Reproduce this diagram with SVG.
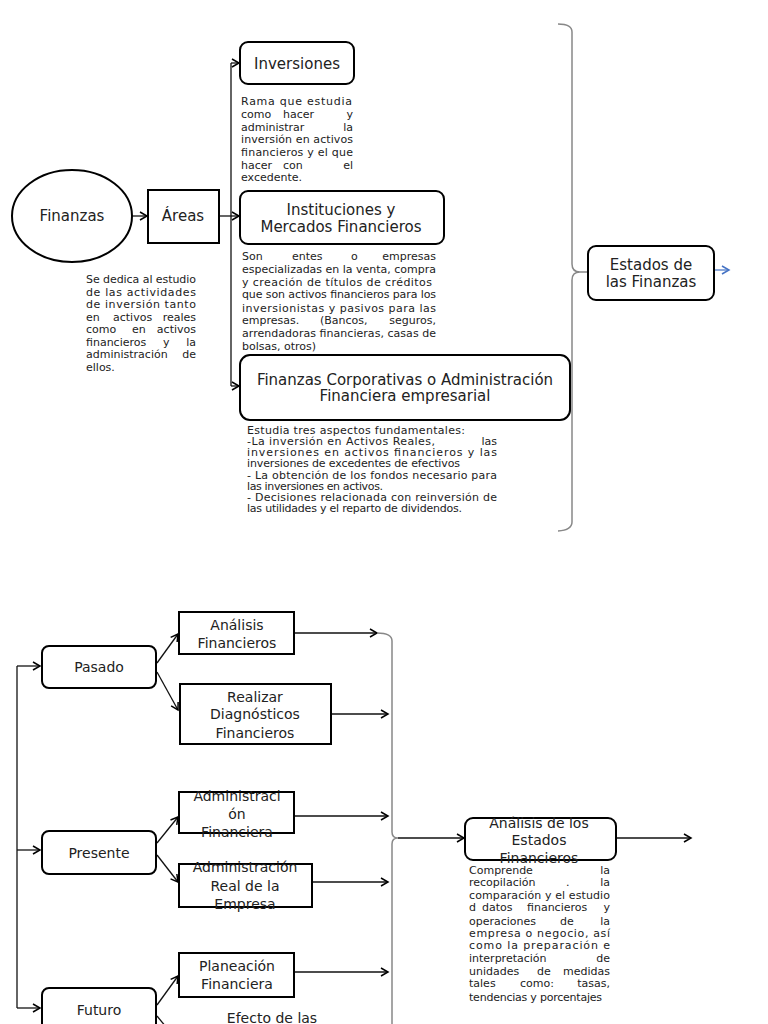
<svg xmlns="http://www.w3.org/2000/svg" width="768" height="1024" viewBox="0 0 768 1024">
<style>
.box{fill:#fff;stroke:#000;stroke-width:2}
.t{font-family:"DejaVu Sans",sans-serif;font-size:15px;fill:#222;text-anchor:middle}
.tb{font-family:"DejaVu Sans",sans-serif;font-size:14px;fill:#222;text-anchor:middle}
.d{font-family:"DejaVu Sans",sans-serif;font-size:11px;fill:#222}
.e{text-anchor:end}
.c{fill:none;stroke:#111;stroke-width:1.3}
.g{fill:none;stroke:#888;stroke-width:1.5}
</style>
<defs>
<marker id="ah" markerWidth="10" markerHeight="10" refX="8" refY="5" orient="auto" markerUnits="userSpaceOnUse"><path d="M1,1 L8,5 L1,9" fill="none" stroke="#000" stroke-width="1.5"/></marker>
<marker id="ab" markerWidth="10" markerHeight="10" refX="8" refY="5" orient="auto" markerUnits="userSpaceOnUse"><path d="M1,1 L8,5 L1,9" fill="none" stroke="#4472C4" stroke-width="1.5"/></marker>
</defs>
<rect width="768" height="1024" fill="#fff"/>

<g id="connectors">
<path class="c" d="M132,216 L147,216" marker-end="url(#ah)"/>
<path class="c" d="M219,216 L231,216"/>
<path class="c" d="M231,63 L231,386"/>
<path class="c" d="M231,63 L239,63" marker-end="url(#ah)"/>
<path class="c" d="M231,216 L239,216" marker-end="url(#ah)"/>
<path class="c" d="M231,386 L239,386" marker-end="url(#ah)"/>
<path class="g" d="M558,24 Q572,24 572,32 L572,264 Q572,272 580,272 L588,272 M580,272 Q572,272 572,280 L572,522 Q572,530 558,531"/>
<path d="M715,270 L729,270" fill="none" stroke="#4472C4" stroke-width="1.2" marker-end="url(#ab)"/>

<path class="c" d="M17,666 L17,1008"/>
<path class="c" d="M17,666 L40,666" marker-end="url(#ah)"/>
<path class="c" d="M17,850 L40,850" marker-end="url(#ah)"/>
<path class="c" d="M17,1008 L40,1008" marker-end="url(#ah)"/>
<path class="c" d="M157,663 L178,634" marker-end="url(#ah)"/>
<path class="c" d="M157,672 L178,710" marker-end="url(#ah)"/>
<path class="c" d="M157,843 L178,817" marker-end="url(#ah)"/>
<path class="c" d="M157,855 L178,882" marker-end="url(#ah)"/>
<path class="c" d="M157,1005 L178,976" marker-end="url(#ah)"/>
<path class="c" d="M157,1016 L185,1050"/>
<path class="c" d="M294,633 L377,633" marker-end="url(#ah)"/>
<path class="c" d="M331,714 L388,714" marker-end="url(#ah)"/>
<path class="c" d="M294,816 L388,816" marker-end="url(#ah)"/>
<path class="c" d="M312,882 L388,882" marker-end="url(#ah)"/>
<path class="c" d="M294,972 L388,972" marker-end="url(#ah)"/>
<path class="g" d="M377,633 Q392,633 392,641 L392,832 Q392,838 398,838 M398,838 Q392,838 392,844 L392,1030"/>
<path class="c" d="M398,838 L464,838" marker-end="url(#ah)"/>
<path class="c" d="M616,838 L691,838" marker-end="url(#ah)"/>
</g>

<g id="finanzas">
<ellipse class="box" cx="72" cy="216" rx="60" ry="46"/>
<text class="t" x="72" y="221">Finanzas</text>
</g>
<g id="finanzas-desc">
<text class="d" x="86" y="283" textLength="110" lengthAdjust="spacing">Se dedica al estudio</text>
<text class="d" x="86" y="295.5" textLength="110" lengthAdjust="spacing">de las actividades</text>
<text class="d" x="86" y="308" textLength="110" lengthAdjust="spacing">de inversión tanto</text>
<text class="d" y="320.5"><tspan x="86">en</tspan><tspan x="113">activos</tspan><tspan x="196" text-anchor="end">reales</tspan></text>
<text class="d" y="333"><tspan x="86">como</tspan><tspan x="132">en</tspan><tspan x="196" text-anchor="end">activos</tspan></text>
<text class="d" y="345.5"><tspan x="86">financieros</tspan><tspan x="163">y</tspan><tspan x="196" text-anchor="end">la</tspan></text>
<text class="d" y="358"><tspan x="86">administración</tspan><tspan x="196" text-anchor="end">de</tspan></text>
<text class="d" x="86" y="370.5">ellos.</text>
</g>

<g id="areas">
<rect class="box" x="148" y="190" width="71" height="53"/>
<text class="t" x="183" y="221">Áreas</text>
</g>

<g id="inversiones">
<rect class="box" x="240" y="42" width="114" height="42" rx="8"/>
<text class="t" x="297" y="69">Inversiones</text>
</g>
<g id="inversiones-desc">
<text class="d" x="241" y="105" textLength="111" lengthAdjust="spacing">Rama que estudia</text>
<text class="d" y="118"><tspan x="241">como</tspan><tspan x="283">hacer</tspan><tspan x="353" text-anchor="end">y</tspan></text>
<text class="d" y="131"><tspan x="241">administrar</tspan><tspan x="353" text-anchor="end">la</tspan></text>
<text class="d" x="241" y="143" textLength="112" lengthAdjust="spacing">inversión en activos</text>
<text class="d" x="241" y="156" textLength="112" lengthAdjust="spacing">financieros y el que</text>
<text class="d" y="169"><tspan x="241">hacer</tspan><tspan x="283">con</tspan><tspan x="353" text-anchor="end">el</tspan></text>
<text class="d" x="241" y="181">excedente.</text>
</g>

<g id="instituciones">
<rect class="box" x="240" y="191" width="204" height="53" rx="8"/>
<text class="t" x="341" y="215">Instituciones y</text>
<text class="t" x="341" y="232">Mercados Financieros</text>
</g>
<g id="instituciones-desc">
<text class="d" y="260"><tspan x="242">Son</tspan><tspan x="292">entes</tspan><tspan x="351">o</tspan><tspan x="436" text-anchor="end">empresas</tspan></text>
<text class="d" x="242" y="273" textLength="194" lengthAdjust="spacing">especializadas en la venta, compra</text>
<text class="d" x="242" y="286" textLength="190" lengthAdjust="spacing">y creación de títulos de créditos</text>
<text class="d" x="242" y="298" textLength="194" lengthAdjust="spacing">que son activos financieros para los</text>
<text class="d" x="242" y="312" textLength="194" lengthAdjust="spacing">inversionistas y pasivos para las</text>
<text class="d" y="324"><tspan x="242">empresas.</tspan><tspan x="320">(Bancos,</tspan><tspan x="436" text-anchor="end">seguros,</tspan></text>
<text class="d" x="242" y="337" textLength="194" lengthAdjust="spacing">arrendadoras financieras, casas de</text>
<text class="d" x="242" y="350">bolsas, otros)</text>
</g>

<g id="corporativas">
<rect class="box" x="240" y="355" width="330" height="65" rx="10"/>
<text class="t" x="405" y="385">Finanzas Corporativas o Administración</text>
<text class="t" x="405" y="401">Financiera empresarial</text>
</g>
<g id="corporativas-desc">
<text class="d" x="247" y="434" textLength="218" lengthAdjust="spacing">Estudia tres aspectos fundamentales:</text>
<text class="d" y="445"><tspan x="247" textLength="188" lengthAdjust="spacing">-La inversión en Activos Reales,</tspan><tspan x="497" text-anchor="end">las</tspan></text>
<text class="d" x="247" y="456" textLength="250" lengthAdjust="spacing">inversiones en activos financieros y las</text>
<text class="d" x="247" y="467" textLength="213" lengthAdjust="spacing">inversiones de excedentes de efectivos</text>
<text class="d" x="247" y="479" textLength="250" lengthAdjust="spacing">- La obtención de los fondos necesario para</text>
<text class="d" x="247" y="490" textLength="136" lengthAdjust="spacing">las inversiones en activos.</text>
<text class="d" x="247" y="501" textLength="250" lengthAdjust="spacing">- Decisiones relacionada con reinversión de</text>
<text class="d" x="247" y="512" textLength="215" lengthAdjust="spacing">las utilidades y el reparto de dividendos.</text>
</g>

<g id="estados">
<rect class="box" x="588" y="246" width="126" height="54" rx="8"/>
<text class="t" x="651" y="270">Estados de</text>
<text class="t" x="651" y="287">las Finanzas</text>
</g>

<g id="pasado">
<rect class="box" x="42" y="646" width="114" height="42" rx="7"/>
<text class="tb" x="99" y="672">Pasado</text>
</g>
<g id="analisis-financieros">
<rect class="box" x="179" y="612" width="115" height="42"/>
<text class="tb" x="237" y="630">Análisis</text>
<text class="tb" x="237" y="648">Financieros</text>
</g>
<g id="diagnosticos">
<rect class="box" x="180" y="684" width="151" height="60"/>
<text class="tb" x="255" y="702">Realizar</text>
<text class="tb" x="255" y="719">Diagnósticos</text>
<text class="tb" x="255" y="738">Financieros</text>
</g>
<g id="presente">
<rect class="box" x="42" y="831" width="114" height="43" rx="7"/>
<text class="tb" x="99" y="858">Presente</text>
</g>
<g id="admin-financiera">
<rect class="box" x="179" y="792" width="115" height="41"/>
<text class="tb" x="237" y="801">Administraci</text>
<text class="tb" x="237" y="819">ón</text>
<text class="tb" x="237" y="837">Financiera</text>
</g>
<g id="admin-real">
<rect class="box" x="179" y="864" width="133" height="43"/>
<text class="tb" x="245" y="872">Administración</text>
<text class="tb" x="245" y="891">Real de la</text>
<text class="tb" x="245" y="909">Empresa</text>
</g>
<g id="futuro">
<rect class="box" x="42" y="988" width="114" height="50" rx="7"/>
<text class="tb" x="99" y="1015">Futuro</text>
</g>
<g id="planeacion">
<rect class="box" x="179" y="953" width="115" height="44"/>
<text class="tb" x="237" y="971">Planeación</text>
<text class="tb" x="237" y="989">Financiera</text>
</g>
<g id="efecto">
<text class="tb" x="272" y="1023">Efecto de las</text>
</g>

<g id="analisis-estados">
<rect class="box" x="465" y="818" width="151" height="42" rx="8"/>
<text class="tb" x="539" y="828">Análisis de los</text>
<text class="tb" x="539" y="845">Estados</text>
<text class="tb" x="539" y="863">Financieros</text>
</g>
<g id="analisis-estados-desc">
<text class="d" y="874"><tspan x="469">Comprende</tspan><tspan x="610" text-anchor="end">la</tspan></text>
<text class="d" y="886"><tspan x="469">recopilación</tspan><tspan x="566">.</tspan><tspan x="610" text-anchor="end">la</tspan></text>
<text class="d" x="469" y="899" textLength="141" lengthAdjust="spacing">comparación y el estudio</text>
<text class="d" y="911"><tspan x="469">d</tspan><tspan x="482">datos</tspan><tspan x="527">financieros</tspan><tspan x="610" text-anchor="end">y</tspan></text>
<text class="d" y="925"><tspan x="469">operaciones</tspan><tspan x="560">de</tspan><tspan x="610" text-anchor="end">la</tspan></text>
<text class="d" x="469" y="937" textLength="141" lengthAdjust="spacing">empresa o negocio, así</text>
<text class="d" x="469" y="949" textLength="141" lengthAdjust="spacing">como la preparación e</text>
<text class="d" y="962"><tspan x="469">interpretación</tspan><tspan x="610" text-anchor="end">de</tspan></text>
<text class="d" y="975"><tspan x="469">unidades</tspan><tspan x="537">de</tspan><tspan x="610" text-anchor="end">medidas</tspan></text>
<text class="d" y="987"><tspan x="469">tales</tspan><tspan x="520">como:</tspan><tspan x="610" text-anchor="end">tasas,</tspan></text>
<text class="d" x="469" y="1001" textLength="133" lengthAdjust="spacing">tendencias y porcentajes</text>
</g>
</svg>
